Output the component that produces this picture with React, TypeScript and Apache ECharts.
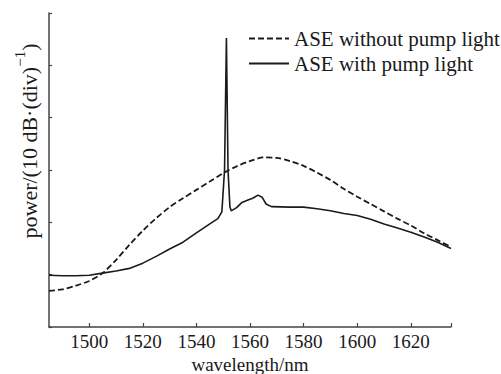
import React, { useEffect, useRef } from "react";
import * as echarts from "echarts";

const wlWithout = [1485, 1490, 1495, 1500, 1505, 1510, 1515, 1520, 1525, 1530, 1535, 1540, 1545, 1550, 1555, 1560, 1565, 1570, 1575, 1580, 1585, 1590, 1595, 1600, 1605, 1610, 1615, 1620, 1625, 1630, 1635];
const pWithout = [0.69, 0.72, 0.79, 0.88, 1.03, 1.28, 1.57, 1.84, 2.08, 2.29, 2.46, 2.62, 2.78, 2.94, 3.07, 3.17, 3.24, 3.23, 3.17, 3.08, 2.95, 2.81, 2.64, 2.49, 2.35, 2.21, 2.07, 1.94, 1.79, 1.66, 1.53];

const wlWith = [1485, 1490, 1495, 1500, 1505, 1510, 1515, 1520, 1525, 1530, 1535, 1540, 1545, 1548, 1549.5, 1550.5, 1551.2, 1551.8, 1552.5, 1553, 1555, 1557, 1559, 1561, 1563, 1564.5, 1566, 1568, 1575, 1580, 1585, 1590, 1595, 1600, 1605, 1610, 1615, 1620, 1625, 1630, 1635];
const pWith = [0.99, 0.98, 0.98, 0.99, 1.03, 1.07, 1.12, 1.22, 1.35, 1.49, 1.62, 1.8, 1.97, 2.07, 2.2, 3.0, 5.52, 3.0, 2.3, 2.22, 2.28, 2.38, 2.42, 2.46, 2.52, 2.48, 2.35, 2.3, 2.29, 2.29, 2.26, 2.22, 2.17, 2.13, 2.06, 1.97, 1.89, 1.81, 1.72, 1.62, 1.5];

const xTickLabels = [1500, 1520, 1540, 1560, 1580, 1600, 1620];
const xTickMarks = [1500, 1520, 1540, 1560, 1580, 1600, 1620, 1635];

const seriesNames = ["ASE without pump light", "ASE with pump light"];
const yTitle = "{a|power/(10 dB·(div)}{s|−1}{a|)}";
const xTitle = "wavelength/nm";

const FONT = "'Liberation Serif', 'Times New Roman', serif";

export default function App() {
  const ref = useRef<HTMLDivElement>(null);
  useEffect(() => {
    if (!ref.current) return;
    const chart = echarts.init(ref.current, undefined, { renderer: "svg" });
    const axisColor = "#444";
    chart.setOption({
      animation: false,
      textStyle: { fontFamily: FONT },
      grid: { left: 49, right: 50, top: 13, bottom: 47, containLabel: false, outerBoundsMode: "none" },
      legend: {
        orient: "vertical",
        left: 243,
        top: 23,
        itemWidth: 40,
        itemHeight: 12,
        itemGap: 4,
        data: seriesNames,
        itemStyle: { opacity: 0, color: "transparent", borderWidth: 0 },
        textStyle: { fontFamily: FONT, fontSize: 21, color: "#1a1a1a" },
      },
      graphic: [
        {
          type: "text",
          x: 26,
          y: 141,
          rotation: Math.PI / 2,
          style: {
            text: yTitle,
            align: "center",
            verticalAlign: "middle",
            fontFamily: FONT,
            fontSize: 22,
            fill: "#1a1a1a",
            rich: {
              a: { fontFamily: FONT, fontSize: 22, fill: "#1a1a1a", color: "#1a1a1a", lineHeight: 28, verticalAlign: "bottom" },
              s: { fontFamily: FONT, fontSize: 15, fill: "#1a1a1a", color: "#1a1a1a", lineHeight: 28, verticalAlign: "top" },
            },
          },
        },
        {
          type: "text",
          x: 250,
          y: 364,
          style: {
            text: xTitle,
            align: "center",
            verticalAlign: "middle",
            fontFamily: FONT,
            fontSize: 19,
            fill: "#1a1a1a",
          },
        },
      ],
      xAxis: {
        type: "value",
        min: 1485,
        max: 1635,
        axisLine: { lineStyle: { color: axisColor, width: 1.5 } },
        axisTick: { inside: true, length: 4, customValues: xTickMarks, lineStyle: { color: axisColor, width: 1.2 } },
        axisLabel: {
          customValues: xTickLabels,
          formatter: (v: number) => String(v),
          fontFamily: FONT,
          fontSize: 19,
          color: "#1a1a1a",
          margin: 5,
        },
        splitLine: { show: false },
      },
      yAxis: {
        type: "value",
        min: 0,
        max: 6,
        interval: 1,
        axisLine: { show: true, lineStyle: { color: axisColor, width: 1.5 } },
        axisTick: { show: true, inside: true, length: 3, lineStyle: { color: axisColor, width: 1.2 } },
        axisLabel: { show: false },
        splitLine: { show: false },
      },
      series: [
        {
          name: seriesNames[0],
          type: "line",
          symbol: "none",
          smooth: 0.3,
          data: wlWithout.map((w, i) => [w, pWithout[i]]),
          lineStyle: { color: "#1a1a1a", width: 1.8, type: [6, 3] },
          itemStyle: { color: "#1a1a1a" },
        },
        {
          name: seriesNames[1],
          type: "line",
          symbol: "none",
          data: wlWith.map((w, i) => [w, pWith[i]]),
          lineStyle: { color: "#1a1a1a", width: 1.6 },
          itemStyle: { color: "#1a1a1a" },
        },
      ],
    });
    return () => chart.dispose();
  }, []);
  return <div ref={ref} style={{ width: 501, height: 374, position: "absolute", left: 0, top: 0 }} />;
}
